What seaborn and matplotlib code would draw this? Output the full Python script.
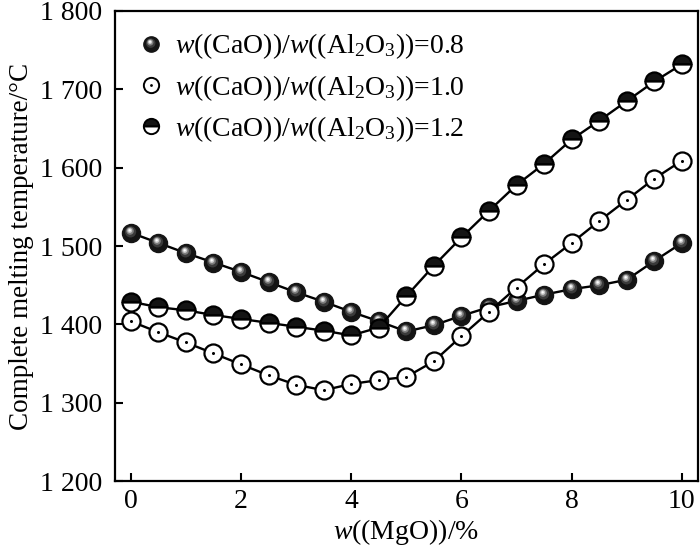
import numpy as np
import matplotlib
matplotlib.use("Agg")
import matplotlib.pyplot as plt
from matplotlib.path import Path
from matplotlib.lines import Line2D
import seaborn as sns

# ---------------- DATA ----------------
mgo = [0, 0.5, 1, 1.5, 2, 2.5, 3, 3.5, 4, 4.5, 5,
       5.5, 6, 6.5, 7, 7.5, 8, 8.5, 9, 9.5, 10]

t_08 = [1517, 1504, 1491, 1479, 1467, 1454, 1441, 1429, 1416, 1404, 1391,
        1399, 1411, 1422, 1430, 1438, 1445, 1450, 1457, 1481, 1504]
t_10 = [1404, 1390, 1377, 1363, 1349, 1335, 1323, 1316, 1324, 1329, 1333,
        1353, 1385, 1416, 1447, 1477, 1504, 1532, 1559, 1586, 1609]
t_12 = [1429, 1422, 1418, 1412, 1407, 1402, 1397, 1392, 1386, 1396, 1436,
        1475, 1511, 1545, 1578, 1605, 1636, 1660, 1685, 1710, 1732]

labels = [r"$w$((CaO))/$w$((Al$_2$O$_3$))=0.8",
          r"$w$((CaO))/$w$((Al$_2$O$_3$))=1.0",
          r"$w$((CaO))/$w$((Al$_2$O$_3$))=1.2"]

xticks = [0, 2, 4, 6, 8, 10]
yticks = [1200, 1300, 1400, 1500, 1600, 1700, 1800]
ytick_labels = ["1 200", "1 300", "1 400", "1 500", "1 600", "1 700", "1 800"]

# ---------------- STYLE ----------------
sns.set_style("ticks")
plt.rcParams["font.family"] = ["Liberation Serif", "DejaVu Serif"]
plt.rcParams["mathtext.fontset"] = "custom"
plt.rcParams["mathtext.rm"] = "Liberation Serif"
plt.rcParams["mathtext.it"] = "Liberation Serif:italic"
plt.rcParams["font.size"] = 20
plt.rcParams["text.color"] = "black"
plt.rcParams["axes.labelcolor"] = "black"
plt.rcParams["xtick.color"] = "black"
plt.rcParams["ytick.color"] = "black"

MS = 13
LEG_MS = 11


def offset_circle(cx, cy, r):
    # circle marker shifted inside the marker box (box kept at +-1)
    circ = Path.unit_circle()
    verts = np.vstack([[[-1, -1], [1, 1]], circ.vertices * r + [cx, cy]])
    codes = np.concatenate([[Path.MOVETO, Path.MOVETO], circ.codes])
    return Path(verts, codes)


# shading layers for the "sphere" marker
shade = [
    (offset_circle(-0.10, 0.18, 0.62), "#3a3a3a"),
    (offset_circle(-0.16, 0.28, 0.42), "#7e7e7e"),
    (offset_circle(-0.19, 0.33, 0.27), "#c8c8c8"),
    (offset_circle(-0.20, 0.35, 0.13), "#ffffff"),
]

fig = plt.figure(figsize=(7, 5.48), dpi=100)
ax = fig.add_axes([0.164, 0.122, 0.833, 0.858])

# series 0.8 : shaded sphere
sns.lineplot(x=mgo, y=t_08, ax=ax, color="black", lw=1.7,
             marker="o", markersize=MS, markerfacecolor="#141414",
             markeredgecolor="#141414", markeredgewidth=1.0)
for p, c in shade:
    ax.plot(mgo, t_08, ls="none", marker=p, markersize=MS,
            markerfacecolor=c, markeredgewidth=0)

# series 1.0 : open circle with dot
sns.lineplot(x=mgo, y=t_10, ax=ax, color="black", lw=1.7,
             marker="o", markersize=MS, markerfacecolor="white",
             markeredgecolor="black", markeredgewidth=1.6)
ax.plot(mgo, t_10, ls="none", marker="o", markersize=2.2,
        color="black", markeredgewidth=0)

# series 1.2 : half filled circle
sns.lineplot(x=mgo, y=t_12, ax=ax, color="black", lw=1.7,
             marker="o", markersize=MS, fillstyle="top",
             markerfacecolor="#141414", markerfacecoloralt="white",
             markeredgecolor="black", markeredgewidth=1.6)

# ---------------- LEGEND ----------------
h08 = [Line2D([], [], ls="none", marker="o", markersize=LEG_MS,
              markerfacecolor="#141414", markeredgecolor="#141414",
              markeredgewidth=1.0)]
h08 += [Line2D([], [], ls="none", marker=p, markersize=LEG_MS,
               markerfacecolor=c, markeredgewidth=0) for p, c in shade]
h10 = [Line2D([], [], ls="none", marker="o", markersize=LEG_MS,
              markerfacecolor="white", markeredgecolor="black",
              markeredgewidth=1.4),
       Line2D([], [], ls="none", marker="o", markersize=2.0,
              color="black", markeredgewidth=0)]
h12 = Line2D([], [], ls="none", marker="o", markersize=LEG_MS,
             fillstyle="top", markerfacecolor="#141414",
             markerfacecoloralt="white", markeredgecolor="black",
             markeredgewidth=1.4)
ax.legend([tuple(h08), tuple(h10), h12], labels, loc="upper left",
          frameon=False, fontsize=20, handlelength=1.0,
          handletextpad=0.35, labelspacing=0.42,
          borderaxespad=0.0, bbox_to_anchor=(0.02, 0.98))

# ---------------- AXES ----------------
ax.set_xlim(-0.29, 10.29)
ax.set_ylim(1200, 1800)
ax.set_xticks(xticks)
ax.set_yticks(yticks)
ax.set_yticklabels(ytick_labels)
ax.tick_params(direction="in", length=6, width=1.5, labelsize=20,
               top=False, right=False, colors="black")
ax.tick_params(axis="y", pad=9)
ax.tick_params(axis="x", pad=6)
for s in ax.spines.values():
    s.set_linewidth(1.6)
    s.set_color("black")

ax.set_xlabel(r"$w$((MgO))/%", fontsize=20, labelpad=2)
ax.set_ylabel("Complete melting temperature/\u00b0C", fontsize=19.5,
              labelpad=4)

fig.savefig("out.png", dpi=100)
